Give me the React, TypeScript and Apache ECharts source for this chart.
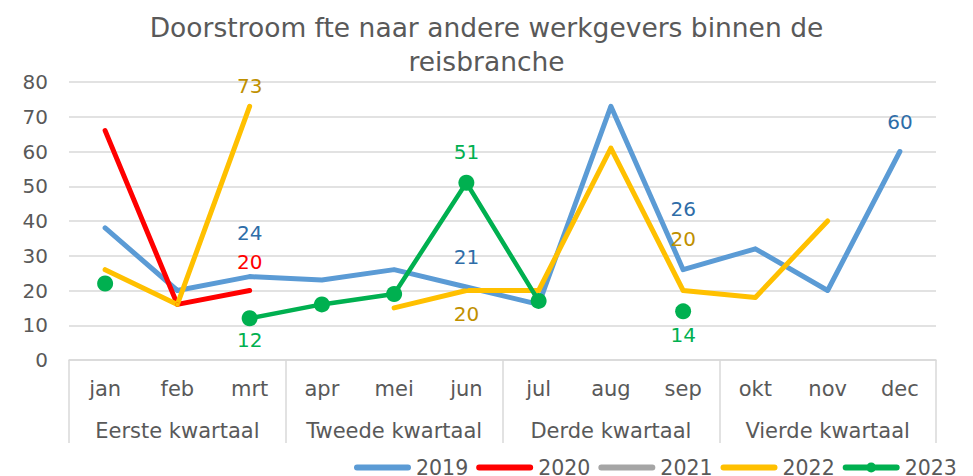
import React, { useEffect, useRef } from "react";
import * as echarts from "echarts";

const months = ["jan", "feb", "mrt", "apr", "mei", "jun", "jul", "aug", "sep", "okt", "nov", "dec"];
const quarters = ["Eerste kwartaal", "Tweede kwartaal", "Derde kwartaal", "Vierde kwartaal"];
const yTicks = [0, 10, 20, 30, 40, 50, 60, 70, 80];

const s2019 = [38, 20, 24, 23, 26, 21, 16, 73, 26, 32, 20, 60];
const s2020 = [66, 16, 20, null, null, null, null, null, null, null, null, null];
const s2021 = [null, null, null, null, null, null, null, null, null, null, null, null];
const s2022 = [26, 16, 73, null, 15, 20, 20, 61, 20, 18, 40, null];
const s2023 = [22, null, 12, 16, 19, 51, 17, null, 14, null, null, null];

// which points carry a data label, with vertical offset of the label (px)
const labels2019: Record<number, number> = { 2: -44, 5: -30, 8: -61, 11: -30 };
const labels2020: Record<number, number> = { 2: -29 };
const labels2022: Record<number, number> = { 2: -20, 5: 23, 8: -52 };
const labels2023: Record<number, number> = { 2: 22, 5: -31, 8: 24 };

const FONT = "DejaVu Sans";
const GRAY_TEXT = "#595959";

// stadium-shaped legend line in a 57x10 box (degenerate corners keep the box)
const STADIUM = "path://M0,0 L0.01,0 Z M0,10 L0.01,10 Z M3,2 L54,2 A3,3 0 0 1 54,8 L3,8 A3,3 0 0 1 3,2 Z";
const STADIUM_DOT =
  "path://M0,0 L0.01,0 Z M0,10 L0.01,10 Z M3,2 L54,2 A3,3 0 0 1 54,8 L3,8 A3,3 0 0 1 3,2 Z M23.5,5 A5,5 0 1 1 33.5,5 A5,5 0 1 1 23.5,5 Z";

function withLabels(values: (number | null)[], lab: Record<number, number>, color: string) {
  return values.map((v, i) => {
    if (v === null) return null;
    if (lab[i] === undefined) return v;
    return {
      value: v,
      label: {
        show: true,
        position: "inside",
        offset: [0, lab[i]],
        color,
        fontSize: 20,
        fontFamily: FONT,
      },
    };
  });
}

export default function App() {
  const ref = useRef<HTMLDivElement>(null);
  useEffect(() => {
    if (!ref.current) return;
    const chart = echarts.init(ref.current, undefined, { renderer: "svg" });
    const lineSeries = (name: string, data: any[], color: string, width: number, symbolSize: number) => ({
      name,
      type: "line",
      xAxisIndex: 0,
      data,
      connectNulls: false,
      symbol: "circle",
      symbolSize,
      showSymbol: true,
      itemStyle: { color },
      lineStyle: { color, width, cap: "round", join: "round" },
      label: { show: false },
      emphasis: { disabled: true },
    });
    chart.setOption({
      animation: false,
      textStyle: { fontFamily: FONT },
      title: {
        text: "Doorstroom fte naar andere werkgevers binnen de\nreisbranche",
        left: "center",
        top: 5,
        textStyle: { fontSize: 26.5, fontWeight: "normal", color: GRAY_TEXT, fontFamily: FONT, lineHeight: 34 },
      },
      legend: {
        top: 457,
        left: 354,
        width: 900,
        padding: 0,
        itemWidth: 57,
        itemHeight: 10,
        itemGap: 8,
        textStyle: { fontSize: 20.5, color: GRAY_TEXT, fontFamily: FONT },
        data: [
          { name: "2019", icon: STADIUM },
          { name: "2020", icon: STADIUM },
          { name: "2021", icon: STADIUM },
          { name: "2022", icon: STADIUM },
          { name: "2023", icon: STADIUM_DOT },
        ],
      },
      grid: { left: 69, right: 37, top: 82, bottom: 116, containLabel: false },
      xAxis: [
        {
          type: "category",
          data: months,
          position: "bottom",
          boundaryGap: true,
          axisLine: { show: true, lineStyle: { color: "#d9d9d9", width: 1.5 } },
          axisTick: { show: false },
          axisLabel: { margin: 18, fontSize: 21, color: GRAY_TEXT, fontFamily: FONT, interval: 0 },
        },
        {
          type: "category",
          data: quarters,
          position: "bottom",
          boundaryGap: true,
          axisLine: { show: false },
          axisTick: { show: true, length: 83, lineStyle: { color: "#d9d9d9", width: 1.5 } },
          axisLabel: { margin: 60, fontSize: 21, color: GRAY_TEXT, fontFamily: FONT, interval: 0 },
        },
      ],
      yAxis: {
        type: "value",
        min: yTicks[0],
        max: yTicks[yTicks.length - 1],
        interval: 10,
        axisLine: { show: false },
        axisTick: { show: false },
        axisLabel: { margin: 21, fontSize: 20, color: GRAY_TEXT, fontFamily: FONT },
        splitLine: { lineStyle: { color: "#d9d9d9", width: 1.5 } },
      },
      series: [
        lineSeries("2019", withLabels(s2019, labels2019, "#2E6DA8"), "#5B9BD5", 5, 4),
        lineSeries("2020", withLabels(s2020, labels2020, "#FF0000"), "#FF0000", 5, 4),
        lineSeries("2021", s2021, "#A5A5A5", 5, 4),
        lineSeries("2022", withLabels(s2022, labels2022, "#BF9000"), "#FFC000", 5, 4),
        lineSeries("2023", withLabels(s2023, labels2023, "#00B050"), "#00B050", 4.5, 16),
      ],
    });
    return () => chart.dispose();
  }, []);
  return <div ref={ref} style={{ position: "absolute", left: 0, top: 0, width: 973, height: 476 }} />;
}
